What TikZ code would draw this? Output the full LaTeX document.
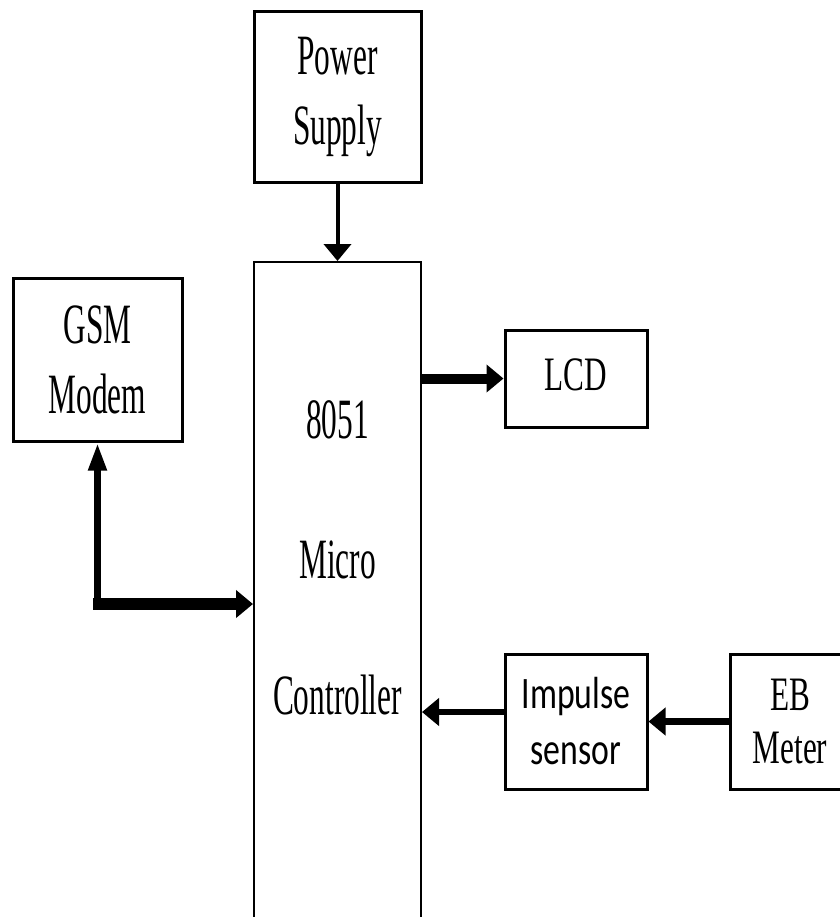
\documentclass[tikz,border=0pt]{standalone}
\usepackage{fontspec}
\newfontfamily\blockfont[FakeStretch=0.55]{Liberation Serif}
\newfontfamily\shortfont[FakeStretch=0.65]{Liberation Serif}
\newfontfamily\sensorfont[FakeStretch=0.75]{Carlito}
\usepackage{tikz}
\usetikzlibrary{arrows.meta}

\begin{document}
\begin{tikzpicture}[x=0.5pt,y=-0.5pt,
  block/.style={draw,line width=1.5pt,align=center,inner sep=0pt,font=\blockfont\fontsize{28.5pt}{35pt}\selectfont},
  link/.style={-{Triangle[length=8.5pt,width=13.5pt]}}]
\useasboundingbox (0,0) rectangle (840,917);
\clip (0,0) rectangle (840,917);
\node[block,minimum width=83.5pt,minimum height=85.5pt] (power) at (337.5,96.5) {Power\\Supply};
\node[block,line width=1pt,minimum width=83.5pt,minimum height=340pt,anchor=north] (mcu) at (337.5,261) {};
\node[font=\blockfont\fontsize{28.5pt}{36pt}\selectfont,align=center] (mcutext) at (337.5,558) {8051\\[34pt]Micro\\[32pt]Controller};
\node[block,minimum width=84.5pt,minimum height=81.5pt] (gsm) at (97.5,359.5) {GSM\\Modem};
\node[block,minimum width=71pt,minimum height=48.5pt,font=\shortfont\fontsize{24pt}{28pt}\selectfont] (lcd) at (576,378.5) {\raisebox{3.5pt}{LCD}};
\node[block,minimum width=71pt,minimum height=67.5pt,font=\sensorfont\fontsize{22.5pt}{28pt}\selectfont] (sensor) at (576,721.5) {Impulse\\sensor};
\node[block,minimum width=60pt,minimum height=67.5pt,font=\shortfont\fontsize{24pt}{26.5pt}\selectfont] (meter) at (790,721.5) {EB\\Meter};
\coordinate (gsmbend) at (97.5,604);
\coordinate (gsmcorner) at (93,604);
\draw[link,line width=2pt] (power) -- (mcu);
\draw[link,line width=3.5pt,-] (gsmbend) -- ++(0,6);
\draw[link,line width=3.5pt,{Triangle[length=14pt,width=8.5pt]}-] (gsm.south) -- (gsmbend);
\draw[link,line width=6pt] (gsmcorner) -- (gsmcorner -| mcu.west);
\draw[link,line width=5pt] (mcu.east |- lcd) -- (lcd.west);
\draw[link,line width=3pt] ([yshift=4.75pt]sensor.west) -- ([yshift=4.75pt]sensor.west -| mcu.east);
\draw[link,line width=3.5pt] (meter.west) -- (sensor.east);
\end{tikzpicture}
\end{document}
